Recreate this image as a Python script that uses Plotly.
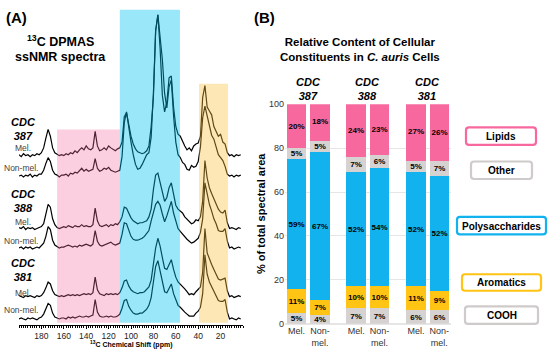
import plotly.graph_objects as go

W, H = 550, 357
FONT = "Arial, Liberation Sans, sans-serif"

# ---------------- Panel A: 13C DPMAS spectra (heights) ----------------
ppm = list(range(200, 0, -2))  # 200 ... 2 ppm

mel_387 = [1, -1, 2, 0, 1, -1, 1, 0, 2, 1,
           3, 8, 18, 27, 20, 8, 3, 1, 0, 1,
           0, 2, 1, 3, 2, 5, 3, 6, 8, 6,
           10, 7, 6, 8, 25, 10, 5, 6, 8, 6,
           10, 8, 6, 5, 7, 8, 14, 40, 44, 30,
           20, 12, 7, 4, 3, 2, 3, 5, 10, 30,
           60, 128, 145, 110, 62, 45, 55, 80, 82, 50,
           30, 22, 20, 14, 10, 6, 8, 5, 10, 12,
           13, 20, 60, 72, 50, 46, 42, 30, 25, 20,
           22, 14, 12, 3, 0, 1, -1, 1, 0, 1]
nonmel_387 = [0, 1, -1, 1, 0, 2, -1, 1, 0, 2,
              2, 6, 13, 19, 15, 6, 2, 1, -1, 1,
              1, 2, 0, 3, 2, 4, 3, 6, 8, 5,
              7, 5, 6, 7, 18, 8, 5, 6, 8, 7,
              9, 6, 5, 4, 5, 6, 20, 55, 66, 48,
              35, 22, 12, 7, 8, 12, 17, 22, 24, 40,
              85, 150, 166, 140, 120, 85, 70, 92, 99, 62,
              35, 22, 19, 14, 12, 7, 6, 11, 9, 10,
              15, 30, 60, 72, 62, 50, 42, 38, 30, 22,
              19, 16, 10, 2, 0, 1, -1, 1, 0, 1]
mel_388 = [1, 0, 2, -1, 1, 0, 1, -1, 0, 1,
           2, 5, 14, 25, 22, 10, 4, 1, 0, 1,
           2, 1, 3, 2, 1, 3, 2, 2, 4, 2,
           3, 2, 2, 4, 21, 8, 3, 2, 3, 4,
           2, 4, 3, 5, 4, 7, 12, 22, 21, 16,
           11, 8, 6, 5, 6, 6, 7, 8, 12, 20,
           40, 55, 57, 47, 36, 28, 32, 42, 47, 35,
           24, 20, 18, 16, 12, 10, 7, 5, 6, 9,
           8, 12, 28, 70, 52, 42, 36, 30, 24, 20,
           17, 16, 19, 6, 0, 1, 0, -1, 1, 0]
nonmel_388 = [0, 1, -1, 1, 0, 1, -1, 0, 1, 0,
              2, 5, 12, 22, 19, 8, 3, 1, 0, 1,
              1, 2, 3, 2, 1, 2, 1, 3, 2, 3,
              4, 3, 2, 4, 18, 7, 3, 2, 3, 4,
              5, 6, 4, 3, 4, 5, 14, 26, 25, 18,
              12, 9, 8, 8, 9, 10, 12, 15, 18, 28,
              37, 45, 48, 44, 35, 27, 33, 42, 48, 36,
              28, 20, 17, 14, 12, 9, 7, 5, 6, 8,
              10, 16, 30, 67, 55, 45, 38, 30, 25, 18,
              17, 17, 20, 7, 0, 1, -1, 0, 1, 0]
mel_381 = [1, 0, -1, 1, 0, 1, 0, -1, 1, 0,
           1, 4, 9, 15, 13, 6, 2, 1, 0, 1,
           0, 1, 2, 1, 2, 1, 2, 1, 2, 3,
           2, 3, 2, 4, 20, 7, 3, 2, 1, 3,
           2, 3, 2, 3, 2, 4, 9, 16, 17, 11,
           7, 5, 4, 3, 4, 4, 5, 7, 10, 17,
           33, 50, 60, 52, 40, 29, 28, 34, 38, 28,
           20, 15, 13, 10, 8, 5, 2, 3, 2, 5,
           7, 10, 25, 70, 45, 38, 33, 28, 22, 18,
           17, 18, 19, 6, 0, 1, -1, 0, 1, 0]
nonmel_381 = [0, 1, 0, -1, 1, 0, 1, 0, -1, 1,
              2, 5, 10, 16, 14, 6, 2, 1, 0, 1,
              1, 0, 2, 1, 2, 1, 2, 3, 2, 2,
              3, 2, 3, 4, 20, 7, 3, 2, 2, 3,
              2, 3, 2, 2, 3, 5, 11, 19, 20, 13,
              9, 6, 5, 5, 6, 6, 8, 10, 14, 22,
              38, 54, 60, 50, 38, 28, 27, 32, 36, 26,
              19, 14, 12, 9, 7, 5, 3, 3, 3, 6,
              8, 12, 26, 66, 46, 38, 33, 28, 24, 19,
              18, 18, 20, 7, 0, 1, 0, -1, 1, 0]

spectra = [mel_387, nonmel_387, mel_388, nonmel_388, mel_381, nonmel_381]
offsets = [174, 153, 99, 79, 29, 6]   # vertical stacking of the traces

# ---------------- Panel B: relative content (%) ----------------
samples = ["387 Mel.", "387 Non-mel.", "388 Mel.", "388 Non-mel.", "381 Mel.", "381 Non-mel."]
cooh = [5, 4, 7, 7, 6, 6]
aromatics = [11, 7, 10, 10, 11, 9]
polysaccharides = [59, 67, 52, 54, 52, 52]
other = [5, 5, 7, 6, 5, 7]
lipids = [20, 18, 24, 23, 27, 26]
tick_text = ["Mel.", "Non-<br>mel."] * 3
strains = ["387", "388", "381"]

PINK = "#F7689F"
BLUE = "#12B2EE"
YELLOW = "#FFC414"
GRAY = "#D6D2D1"

bar_pos = [0, 1, 2.55, 3.55, 5.1, 6.1]


def px(x, y):
    return x / W, 1 - y / H


fig = go.Figure()

for vals, off in zip(spectra, offsets):
    fig.add_trace(go.Scatter(x=ppm, y=[v + off for v in vals], mode="lines",
                             line=dict(color="black", width=1.2),
                             xaxis="x", yaxis="y", showlegend=False, hoverinfo="skip"))

segments = [("COOH", cooh, GRAY), ("Aromatics", aromatics, YELLOW),
            ("Polysaccharides", polysaccharides, BLUE), ("Other", other, GRAY),
            ("Lipids", lipids, PINK)]
for name, vals, col in segments:
    fig.add_trace(go.Bar(x=bar_pos, y=vals, name=name, marker=dict(color=col, line=dict(width=0)),
                         width=0.83, text=[f"{v}%" for v in vals], textposition="inside",
                         insidetextanchor="middle", textangle=0, constraintext="none",
                         textfont=dict(size=8, color="black", family=FONT, weight="bold"),
                         xaxis="x2", yaxis="y2", showlegend=False, hoverinfo="skip"))

shapes = [
    dict(type="rect", xref="x", yref="y", x0=166, x1=110, y0=2, y1=201,
         fillcolor="#F26B9B", opacity=0.32, line_width=0, layer="above"),
    dict(type="rect", xref="x", yref="y", x0=110, x1=56.3, y0=2, y1=324,
         fillcolor="#00C3F0", opacity=0.4, line_width=0, layer="above"),
    dict(type="rect", xref="x", yref="y", x0=39.3, x1=13.4, y0=2, y1=248,
         fillcolor="#F9C23C", opacity=0.38, line_width=0, layer="above"),
]


def rrect(x0, y0, x1, y1, r, color):
    def p(x, y):
        a, b = px(x, y)
        return f"{a:.5f},{b:.5f}"
    path = (f"M {p(x0 + r, y0)} L {p(x1 - r, y0)} Q {p(x1, y0)} {p(x1, y0 + r)} "
            f"L {p(x1, y1 - r)} Q {p(x1, y1)} {p(x1 - r, y1)} L {p(x0 + r, y1)} "
            f"Q {p(x0, y1)} {p(x0, y1 - r)} L {p(x0, y0 + r)} Q {p(x0, y0)} {p(x0 + r, y0)} Z")
    return dict(type="path", xref="paper", yref="paper", path=path,
                line=dict(color=color, width=2.2), fillcolor="white", layer="above")


legend_boxes = [("Lipids", PINK, 466, 126, 536, 144),
                ("Other", "#CFCBCA", 471, 161, 532, 179),
                ("Polysaccharides", BLUE, 457, 218, 546, 236),
                ("Aromatics", YELLOW, 462, 277, 541, 294),
                ("COOH", "#CFCBCA", 465, 310, 538, 328)]

annotations = []


def text(x, y, s, size, bold=True, color="black", xanchor="center", angle=0):
    a, b = px(x, y)
    annotations.append(dict(x=a, y=b, xref="paper", yref="paper", text=s, showarrow=False,
                            xanchor=xanchor, yanchor="middle", textangle=angle,
                            font=dict(family=FONT, size=size, color=color,
                                      weight="bold" if bold else "normal")))


for label, col, x0, y0, x1, y1 in legend_boxes:
    shapes.append(rrect(x0, y0, x1, y1, 3, col))
    text((x0 + x1) / 2, (y0 + y1) / 2 + 0.5, label, 10)

text(16, 13, "(A)", 15)
text(264, 13, "(B)", 15)
text(60, 37, "<sup>13</sup>C DPMAS", 12.5)
text(60, 53, "ssNMR spectra", 12.5)

for s, yc in zip(strains, [128, 202, 273]):
    text(23, yc, f"<i>CDC<br>{s}</i>", 11)
for yc in [147, 223, 296]:
    text(33, yc, "Mel.", 8.5, bold=False, color="#444", xanchor="right")
for yc in [168, 243, 314]:
    text(40, yc, "Non-mel.", 8.5, bold=False, color="#444", xanchor="right")
text(131, 349, "<sup>13</sup>C Chemical Shift (ppm)", 7)

text(278, 46, "Relative Content of Cellular<br>Constituents in <i>C. auris</i> Cells", 11.5,
     xanchor="left")
for s, xc in zip(strains, [308, 367, 427]):
    text(xc, 86, f"<i>CDC<br>{s}</i>", 11)
text(261, 215, "% of total spectral area", 11, angle=-90)

fig.update_layout(
    width=W, height=H, margin=dict(l=0, r=0, t=0, b=0),
    paper_bgcolor="white", plot_bgcolor="white",
    font=dict(family=FONT, color="black"),
    barmode="stack", bargap=0,
    xaxis=dict(domain=[19 / W, 243 / W], range=[200, 0], anchor="y", showgrid=False,
               zeroline=False, showline=True, linecolor="black", linewidth=1,
               ticks="outside", ticklen=3, tickcolor="black",
               tickvals=[180, 160, 140, 120, 100, 80, 60, 40, 20],
               tickfont=dict(size=8.5, color="#222"),
               minor=dict(dtick=2, ticklen=2, tickcolor="black", ticks="outside")),
    yaxis=dict(domain=[(H - 329) / H, 1], range=[0, 329], anchor="x", visible=False),
    xaxis2=dict(domain=[285 / W, 451 / W], range=[-0.49, 6.6], anchor="y2",
                tickvals=bar_pos, ticktext=tick_text, showgrid=False, zeroline=False,
                showline=False, tickfont=dict(size=9, color="#333"), ticks=""),
    yaxis2=dict(domain=[(H - 328) / H, (H - 102) / H], range=[0, 100], anchor="x2",
                tickvals=[0, 20, 40, 60, 80, 100], gridcolor="#E6E6E6", zeroline=True,
                zerolinecolor="#E6E6E6", showline=False, ticks="",
                tickfont=dict(size=9, color="#333")),
    shapes=shapes, annotations=annotations,
)

# the page's default body margin would push the fixed-size figure off the window
fig.write_html("out.html", config={"displayModeBar": False},
               post_script="document.body.style.margin='0';")
